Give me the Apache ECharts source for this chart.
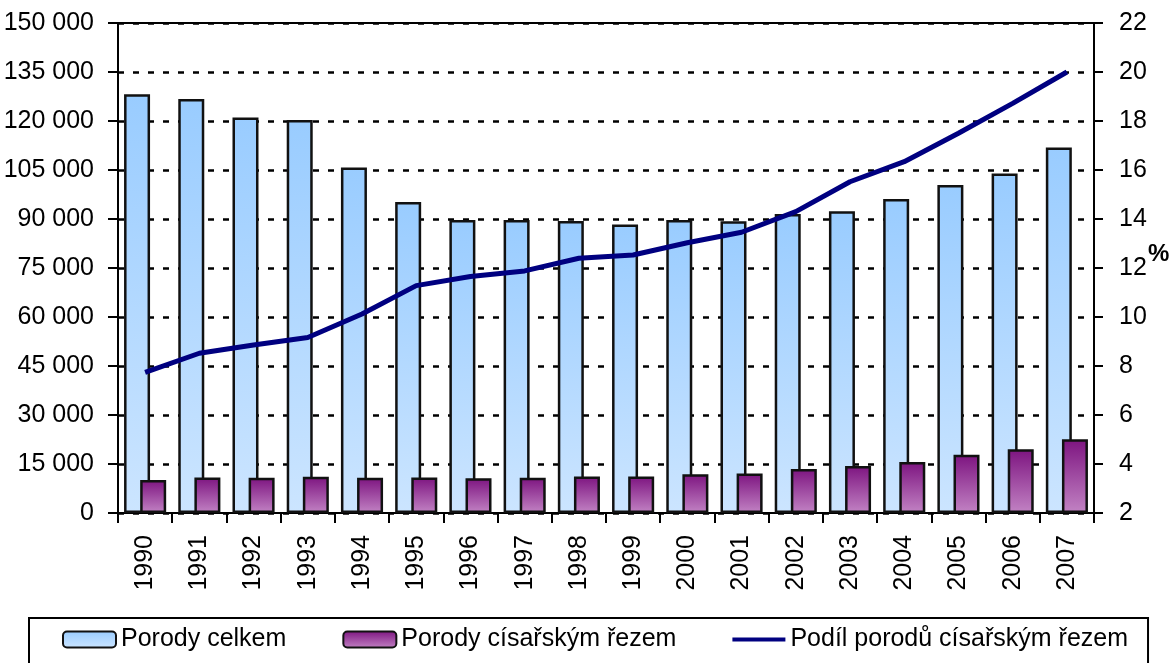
<!DOCTYPE html>
<html>
<head>
<meta charset="utf-8">
<script src="https://cdn.jsdelivr.net/npm/echarts@6/dist/echarts.min.js"></script>
<style>
  html, body { margin: 0; padding: 0; background: #fff; }
  #chart { width: 1173px; height: 663px; }
</style>
</head>
<body>
<div id="chart"></div>
<script>
// data
var years = ['1990', '1991', '1992', '1993', '1994', '1995', '1996', '1997', '1998',
  '1999', '2000', '2001', '2002', '2003', '2004', '2005', '2006', '2007'];
var porodyCelkem = [128200, 126700, 121100, 120300, 105800, 95200, 89700, 89700, 89400,
  88300, 89700, 89300, 91500, 92400, 96100, 100400, 103900, 111900];
var porodyRezem = [10100, 10900, 10800, 11100, 10800, 10900, 10600, 10800, 11200,
  11200, 11900, 12100, 13500, 14400, 15600, 17800, 19500, 22600];
var podilRezem = [7.74, 8.52, 8.86, 9.16, 10.12, 11.28, 11.65, 11.88, 12.4,
  12.53, 13.03, 13.46, 14.3, 15.52, 16.34, 17.5, 18.72, 20.0];

var font = "'Liberation Sans Narrow', 'Arial Narrow', 'Liberation Sans', Arial, sans-serif";

function spaced(v) {
  return String(v).replace(/\B(?=(\d{3})+(?!\d))/g, ' ');
}

var chartDom = document.getElementById('chart');
var myChart = echarts.init(chartDom);
var option;

option = {
  animation: false,
  textStyle: { fontFamily: font },
  grid: {
    left: 118,
    right: 79,
    top: 23,
    bottom: 150,
    containLabel: false,
    outerBoundsMode: 'none',
    show: true,
    borderColor: '#000',
    borderWidth: 2
  },
  // unit of the right axis
  graphic: [
    {
      type: 'text',
      left: 1148,
      top: 242,
      style: { text: '%', font: 'bold 24px ' + font, fill: '#000' }
    }
  ],
  legend: {
    left: 29,
    top: 618,
    padding: [9, 20, 20, 33],
    borderColor: '#000',
    borderWidth: 2,
    itemWidth: 53,
    itemHeight: 16,
    itemGap: 56,
    textStyle: { fontFamily: font, fontSize: 25, color: '#000' },
    data: [
      'Porody celkem',
      'Porody císařským řezem',
      {
        name: 'Podíl porodů císařským řezem',
        // thin bar in the middle of a 53x16 box
        icon: 'path://M0 0 L0 0 M0 6 L53 6 L53 10 L0 10 Z M53 16 L53 16',
        itemStyle: { color: '#000080', borderWidth: 0 }
      }
    ]
  },
  xAxis: {
    type: 'category',
    data: years,
    axisLine: { lineStyle: { color: '#000', width: 2 } },
    axisTick: { show: true, length: 10, lineStyle: { color: '#000', width: 2 } },
    axisLabel: { rotate: 90, margin: 22, fontSize: 25, color: '#000', fontFamily: font }
  },
  yAxis: [
    {
      type: 'value',
      min: 0,
      max: 150000,
      interval: 15000,
      axisLine: { show: true, lineStyle: { color: '#000', width: 2 } },
      axisTick: { show: true, length: 10, lineStyle: { color: '#000', width: 2 } },
      axisLabel: { margin: 24, fontSize: 25, color: '#000', fontFamily: font, formatter: spaced },
      splitLine: { lineStyle: { color: '#000', width: 2.5, type: [6, 9] } }
    },
    {
      type: 'value',
      min: 2,
      max: 22,
      interval: 2,
      axisLine: { show: true, lineStyle: { color: '#000', width: 2 } },
      axisTick: { show: true, length: 9, lineStyle: { color: '#000', width: 2 } },
      axisLabel: { margin: 25, fontSize: 25, color: '#000', fontFamily: font },
      splitLine: { show: false }
    }
  ],
  series: [
    {
      name: 'Porody celkem',
      type: 'bar',
      barWidth: 26,
      barGap: '-38%',
      data: porodyCelkem,
      itemStyle: {
        color: new echarts.graphic.LinearGradient(0, 0, 0, 1, [
          { offset: 0, color: '#99ccff' },
          { offset: 1, color: '#cce5ff' }
        ]),
        borderColor: '#111',
        borderWidth: 2.5
      }
    },
    {
      name: 'Porody císařským řezem',
      type: 'bar',
      barWidth: 26,
      barGap: '-38%',
      data: porodyRezem,
      itemStyle: {
        color: new echarts.graphic.LinearGradient(0, 0, 0, 1, [
          { offset: 0, color: '#7d1480' },
          { offset: 1, color: '#c283c4' }
        ]),
        borderColor: '#111',
        borderWidth: 2.5
      }
    },
    {
      name: 'Podíl porodů císařským řezem',
      type: 'line',
      yAxisIndex: 1,
      data: podilRezem,
      symbol: 'none',
      lineStyle: { color: '#000080', width: 5 },
      itemStyle: { color: '#000080' }
    }
  ]
};

option && myChart.setOption(option);
</script>
</body>
</html>
